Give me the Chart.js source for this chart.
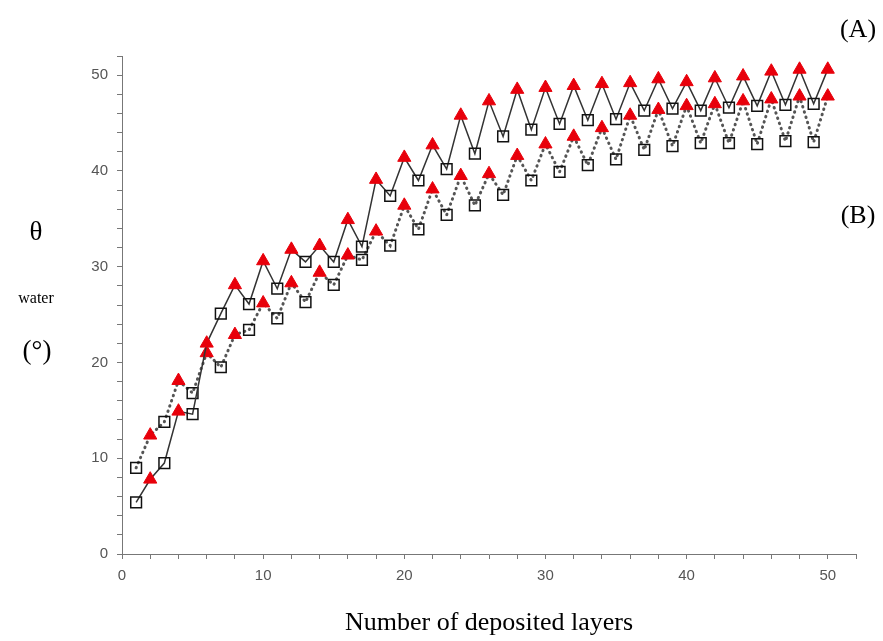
<!DOCTYPE html>
<html>
<head>
<meta charset="utf-8">
<script src="https://cdn.jsdelivr.net/npm/chart.js@4"></script>
<style>
body{margin:0;background:#fff;}
#wrap{position:relative;width:883px;height:641px;}
.lbl{position:absolute;font-family:"Liberation Serif",serif;color:#000;transform:translate(-50%,-50%);white-space:nowrap;line-height:1;}
</style>
</head>
<body>
<div id="wrap">
<canvas id="chart" width="883" height="641"></canvas>
<div class="lbl" style="left:36px;top:231px;font-size:27px">θ</div>
<div class="lbl" style="left:36px;top:298px;font-size:16px">water</div>
<div class="lbl" style="left:37px;top:350px;font-size:27px">(°)</div>
<div class="lbl" style="left:858px;top:29px;font-size:26px">(A)</div>
<div class="lbl" style="left:858px;top:215px;font-size:26px">(B)</div>
</div>
<script>
// number of deposited layers
const layers = [1,2,3,4,5,6,7,8,9,10,11,12,13,14,15,16,17,18,19,20,21,22,23,24,25,
    26,27,28,29,30,31,32,33,34,35,36,37,38,39,40,41,42,43,44,45,46,47,48,49,50];

// (A) solid line
const seriesA = [5.4,7.8,9.5,14.9,14.6,22.0,25.1,28.1,26.1,30.6,27.7,31.8,30.5,32.2,30.5,
    34.9,32.1,39.1,37.4,41.4,39.0,42.7,40.2,45.8,41.8,47.3,43.6,48.5,44.3,48.7,44.9,48.9,
    45.3,49.1,45.4,49.2,46.3,49.6,46.5,49.3,46.3,49.7,46.6,49.9,46.8,50.4,46.9,50.6,47.0,50.6];

// (B) dotted line
const seriesB = [9.0,12.4,13.8,18.1,16.8,21.0,19.5,22.9,23.4,26.2,24.6,28.3,26.3,29.4,28.1,
    31.2,30.7,33.7,32.2,36.4,33.9,38.1,35.4,39.5,36.4,39.7,37.5,41.6,39.0,42.8,39.9,43.6,
    40.6,44.5,41.2,45.8,42.2,46.4,42.6,46.8,42.9,47.0,42.9,47.3,42.8,47.5,43.1,47.8,43.0,47.8];

const xTicks = [0,10,20,30,40,50];
const yTicks = [0,10,20,30,40,50];

function toPoints(vals){
    return vals.map((v, i) => ({x: layers[i], y: v}));
}

// odd layers -> open square, even layers -> red triangle
const markerStyle = {
    pointStyle: c => c.dataIndex % 2 === 0 ? 'rect' : 'triangle',
    pointRadius: c => c.dataIndex % 2 === 0 ? 7.6 : 7.6,
    pointBackgroundColor: c => c.dataIndex % 2 === 0 ? 'rgba(0,0,0,0)' : '#e8000b',
    pointBorderColor: c => c.dataIndex % 2 === 0 ? '#111' : '#e8000b',
    pointBorderWidth: c => c.dataIndex % 2 === 0 ? 1.5 : 1
};

const tickFont = {family: 'Liberation Sans', size: 15};

var ctx = document.getElementById('chart').getContext('2d');
var chart = new Chart(ctx, {
    type: 'line',
    data: {
        datasets: [
            Object.assign({
                label: '(A)',
                data: toPoints(seriesA),
                borderColor: '#333',
                borderWidth: 1.5,
                tension: 0,
                clip: false
            }, markerStyle),
            Object.assign({
                label: '(B)',
                data: toPoints(seriesB),
                borderColor: '#555',
                borderWidth: 3,
                borderDash: [0.5, 5],
                borderCapStyle: 'round',
                tension: 0,
                clip: false
            }, markerStyle)
        ]
    },
    options: {
        responsive: false,
        animation: false,
        layout: {padding: {left: 0, right: 27, top: 56, bottom: 0}, autoPadding: false},
        plugins: {legend: {display: false}, tooltip: {enabled: false}},
        scales: {
            x: {
                type: 'linear',
                min: 0,
                max: 52,
                ticks: {
                    stepSize: 2,
                    autoSkip: false,
                    maxRotation: 0,
                    padding: 8,
                    color: '#555',
                    font: tickFont,
                    callback: v => xTicks.includes(v) ? v : ''
                },
                grid: {drawOnChartArea: false, tickLength: 5, tickColor: '#777'},
                border: {color: '#777'},
                title: {
                    display: true,
                    text: 'Number of deposited layers',
                    color: '#000',
                    font: {family: 'Liberation Serif', size: 26},
                    padding: {top: 0, bottom: 2}
                },
                afterFit: s => { s.height = 87; }
            },
            y: {
                min: 0,
                max: 52,
                ticks: {
                    stepSize: 2,
                    autoSkip: false,
                    padding: 9,
                    color: '#555',
                    font: tickFont,
                    callback: v => yTicks.includes(v) ? v : ''
                },
                grid: {drawOnChartArea: false, tickLength: 5, tickColor: '#777'},
                border: {color: '#777'},
                afterFit: s => { s.width = 122; }
            }
        }
    }
});
</script>
</body>
</html>
